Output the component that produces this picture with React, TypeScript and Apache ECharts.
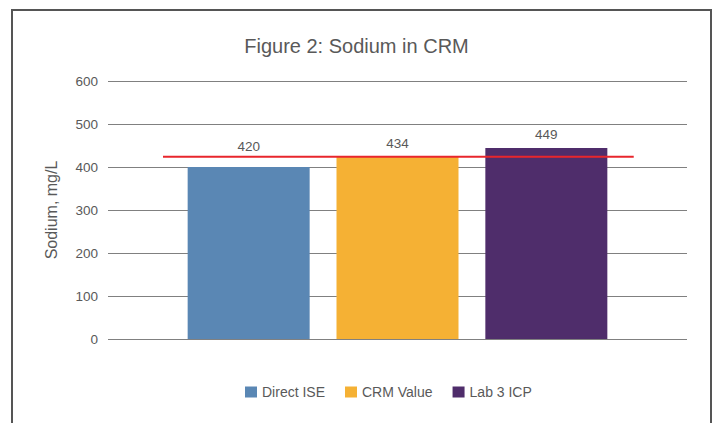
import React, { useEffect, useRef } from "react";
import * as echarts from "echarts";

const seriesNames = ["Direct ISE", "CRM Value", "Lab 3 ICP"];
const barValues = [400, 424, 444];
const barLabels = ["420", "434", "449"];
const barColors = ["#5a87b4", "#f5b134", "#4f2d6b"];
const labelDistances = [14, 6, 7];
const referenceValue = 424;
const referenceSpan = [0.095, 0.908];
const yTicks = { min: 0, max: 600, interval: 100 };

export default function App() {
  const ref = useRef<HTMLDivElement>(null);
  useEffect(() => {
    const chart = echarts.init(ref.current!, undefined, { renderer: "svg" });
    const font = "'Liberation Sans', Arial, Helvetica, sans-serif";
    const barSeries = seriesNames.map((name, i) => ({
      name,
      type: "bar",
      xAxisIndex: 0,
      yAxisIndex: 0,
      data: [barValues[i]],
      barWidth: 122,
      barGap: "22%",
      itemStyle: { color: barColors[i] },
      label: {
        show: true,
        position: "top",
        distance: labelDistances[i],
        formatter: () => barLabels[i],
        color: "#595959",
        fontSize: 13.5,
        fontFamily: font,
      },
      z: 2,
    }));
    chart.setOption({
      animation: false,
      textStyle: { fontFamily: font },
      title: {
        text: "Figure 2: Sodium in CRM",
        left: "center",
        top: 31,
        textStyle: { color: "#595959", fontSize: 20, fontWeight: "normal", fontFamily: font },
      },
      graphic: [
        {
          type: "rect",
          shape: { x: 12, y: 10, width: 699, height: 440 },
          style: { fill: "none", stroke: "#555", lineWidth: 2 },
          silent: true,
        },
      ],
      grid: { left: 108, right: 26, top: 81, bottom: 84 },
      legend: {
        data: seriesNames,
        bottom: 19,
        left: 240,
        icon: "rect",
        itemWidth: 12,
        itemHeight: 11,
        itemGap: 20,
        textStyle: { color: "#595959", fontSize: 14, fontFamily: font },
      },
      xAxis: [
        {
          type: "category",
          data: ["Sodium"],
          axisLine: { show: false },
          axisTick: { show: false },
          axisLabel: { show: false },
        },
        { type: "value", min: 0, max: 1, show: false },
      ],
      yAxis: {
        type: "value",
        min: yTicks.min,
        max: yTicks.max,
        interval: yTicks.interval,
        name: "Sodium, mg/L",
        nameLocation: "middle",
        nameGap: 49,
        nameTextStyle: { color: "#595959", fontSize: 16, fontFamily: font },
        axisLine: { show: false },
        axisTick: { show: false },
        axisLabel: { color: "#595959", fontSize: 13.5, margin: 10, fontFamily: font },
        splitLine: { lineStyle: { color: "#808080", width: 1 } },
      },
      series: [
        ...barSeries,
        {
          name: "Reference",
          type: "line",
          xAxisIndex: 1,
          yAxisIndex: 0,
          data: referenceSpan.map((x) => [x, referenceValue]),
          symbol: "none",
          lineStyle: { color: "#e8262c", width: 2 },
          z: 5,
        },
      ],
    });
    return () => chart.dispose();
  }, []);
  return (
    <div
      ref={ref}
      style={{ position: "absolute", left: 0, top: 0, width: 713, height: 423 }}
    />
  );
}
